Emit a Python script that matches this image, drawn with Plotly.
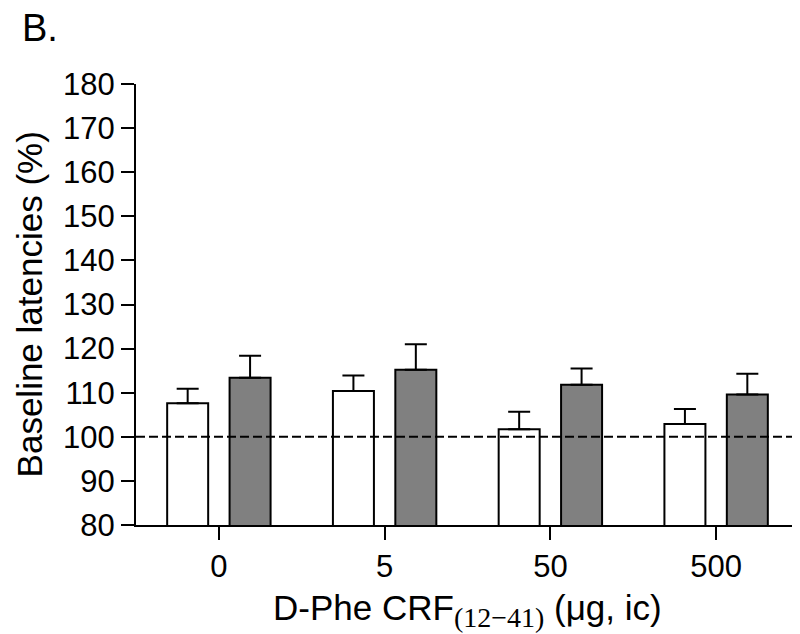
import plotly.graph_objects as go

categories = ["0", "5", "50", "500"]
white_values = [107.6, 110.4, 101.7, 102.9]
white_errors = [3.3, 3.5, 4.0, 3.4]
grey_values = [113.4, 115.2, 111.8, 109.6]
grey_errors = [5.0, 5.8, 3.7, 4.7]
y_ticks = list(range(80, 181, 10))
baseline = 100

FONT = "Liberation Sans, Arial, sans-serif"

fig = go.Figure()
fig.add_trace(go.Bar(
    x=categories, y=white_values,
    marker=dict(color="white", line=dict(color="black", width=2)),
    error_y=dict(type="data", array=white_errors, arrayminus=[0] * 4, symmetric=False,
                 color="black", thickness=2, width=11),
    showlegend=False,
))
fig.add_trace(go.Bar(
    x=categories, y=grey_values,
    marker=dict(color="#808080", line=dict(color="black", width=2)),
    error_y=dict(type="data", array=grey_errors, arrayminus=[0] * 4, symmetric=False,
                 color="black", thickness=2, width=11),
    showlegend=False,
))

fig.add_shape(type="line", xref="paper", x0=0, x1=1, yref="y", y0=baseline, y1=baseline,
              line=dict(color="black", width=2, dash="9px,4px"), layer="above")

x_title = ("D-Phe CRF<sub><span style=\"font-family:'Liberation Serif', 'Times New Roman', serif;"
           "font-size:28px\">(12\u221241)</span></sub> (\u03bcg, ic)")

fig.update_layout(
    width=800, height=634,
    margin=dict(l=128, r=9, t=76, b=117),
    paper_bgcolor="white", plot_bgcolor="white",
    barmode="group", bargap=0.247, bargroupgap=0.343,
    font=dict(family=FONT, color="black", size=31),
    xaxis=dict(
        showline=True, linecolor="black", linewidth=2,
        ticks="outside", ticklen=13, tickwidth=2, tickcolor="black",
        tickfont=dict(size=31, family=FONT, color="black"),
        showgrid=False, zeroline=False,
    ),
    yaxis=dict(
        range=[80, 180], tickvals=y_ticks,
        showline=True, linecolor="black", linewidth=2,
        ticks="outside", ticklen=13, tickwidth=2, tickcolor="black",
        tickfont=dict(size=31, family=FONT, color="black"),
        showgrid=False, zeroline=False,
    ),
    annotations=[
        dict(text="B.", xref="paper", yref="paper", x=-0.175, y=1.18,
             xanchor="left", yanchor="top", showarrow=False,
             font=dict(size=38, family=FONT, color="black")),
        dict(text="Baseline latencies (%)", xref="paper", yref="paper", x=-0.16, y=0.5,
             xanchor="center", yanchor="middle", textangle=-90, showarrow=False,
             font=dict(size=35, family=FONT, color="black")),
        dict(text=x_title,
             xref="paper", yref="paper", x=0.5, y=-0.194,
             xanchor="center", yanchor="middle", showarrow=False,
             font=dict(size=35, family=FONT, color="black")),
    ],
)

fig.write_html("out.html")
